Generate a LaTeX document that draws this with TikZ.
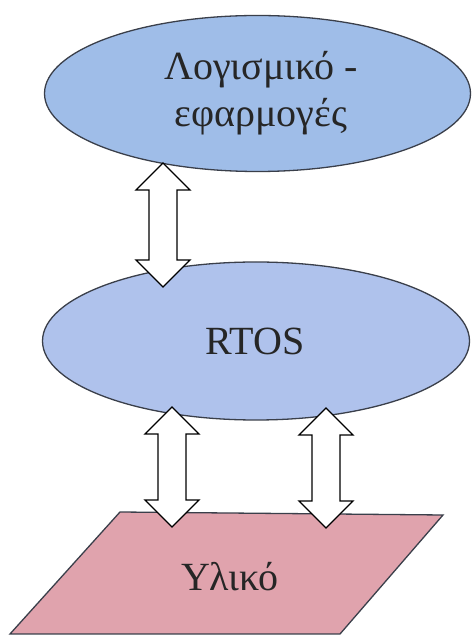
\documentclass[tikz,border=0pt]{standalone}
\usepackage{fontspec}
\setmainfont{Liberation Serif}
\usetikzlibrary{shapes.geometric,calc}

\definecolor{softblue}{HTML}{9FBDE8}
\definecolor{paleblue}{HTML}{AFC2EC}
\definecolor{rosefill}{HTML}{E0A3AD}
\definecolor{edgegray}{HTML}{3A3F4A}

\tikzset{
  layer/.style={ellipse, draw=edgegray, line width=1.3pt, inner sep=0pt},
  label/.style={font=\fontsize{40}{47}\selectfont, align=center, text=black!85, inner sep=0pt},
  blockarrow/.style={draw=black, fill=white, line width=1.3pt, line join=miter},
}

% hollow double-headed block arrow between two named coordinates (top, bottom)
\newcommand\duplexarrow[2]{%
  \draw[blockarrow] let \p1=(#1), \p2=(#2) in
    (\x1,\y1) -- (\x1+27pt,\y1-27pt) -- (\x1+14pt,\y1-27pt)
    -- (\x2+14pt,\y2+27pt) -- (\x2+27pt,\y2+27pt) -- (\x2,\y2)
    -- (\x2-27pt,\y2+27pt) -- (\x2-14pt,\y2+27pt)
    -- (\x1-14pt,\y1-27pt) -- (\x1-27pt,\y1-27pt) -- cycle;}

\begin{document}
\begin{tikzpicture}[x=1pt,y=1pt]
  \useasboundingbox (0,0) rectangle (472,635);

  % software layer
  \node[layer, fill=softblue, minimum width=426pt, minimum height=156pt] (app) at (257.5,541.5) {};
  \node[label] (apptext) at (261,542) {Λογισμικό -\\εφαρμογές};

  % operating system layer
  \node[layer, fill=paleblue, minimum width=427pt, minimum height=158pt] (rtos) at (256,294) {};
  \node[label] (rtostext) at (255,294) {RTOS};

  % hardware layer
  \coordinate (hwTL) at (120,123);
  \coordinate (hwTR) at (443,120);
  \coordinate (hwBR) at (340,1);
  \coordinate (hwBL) at (10,1);
  \draw[draw=edgegray, line width=1.3pt, fill=rosefill, line join=miter]
    (hwTL) -- (hwTR) -- (hwBR) -- (hwBL) -- cycle;
  \node[label] (hwtext) at (230,58) {Υλικό};

  % arrow end points
  \coordinate (a1top) at (163,472);
  \coordinate (a1bot) at (163,348);
  \coordinate (a2top) at (172,228);
  \coordinate (a2bot) at (172,108);
  \coordinate (a3top) at (326,227);
  \coordinate (a3bot) at (326,107);

  \duplexarrow{a1top}{a1bot}
  \duplexarrow{a2top}{a2bot}
  \duplexarrow{a3top}{a3bot}
\end{tikzpicture}
\end{document}
